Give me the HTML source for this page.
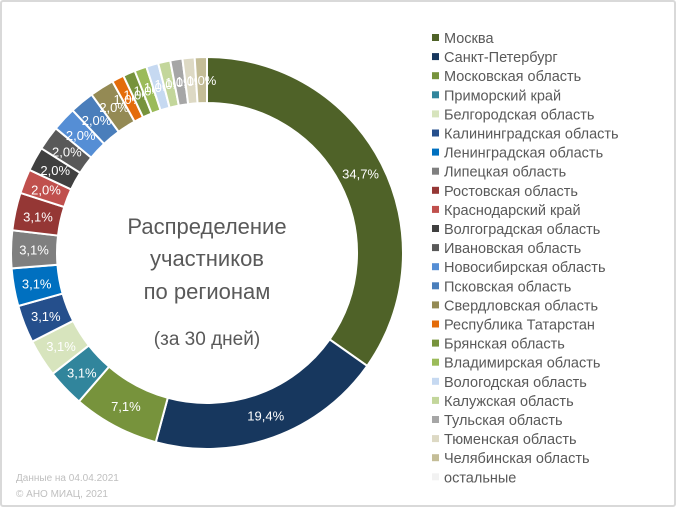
<!DOCTYPE html>
<html><head><meta charset="utf-8"><style>
html,body{margin:0;padding:0;background:#fff}
#wrap{position:relative;width:672px;height:503px;border:2px solid #d9d9d9;border-radius:3px;overflow:hidden;font-family:"Liberation Sans","Noto Sans CJK SC",sans-serif}
svg{position:absolute;left:0;top:0}
</style></head><body>
<div id="wrap">
<svg id="chart" width="672" height="503"></svg>
</div>
<script>
const regions=["Москва","Санкт-Петербург","Московская область","Приморский край","Белгородская область","Калининградская область","Ленинградская область","Липецкая область","Ростовская область","Краснодарский край","Волгоградская область","Ивановская область","Новосибирская область","Псковская область","Свердловская область","Республика Татарстан","Брянская область","Владимирская область","Вологодская область","Калужская область","Тульская область","Тюменская область","Челябинская область","остальные"];
const shares=[34.7,19.4,7.1,3.1,3.1,3.1,3.1,3.1,3.1,2.0,2.0,2.0,2.0,2.0,2.0,1.0,1.0,1.0,1.0,1.0,1.0,1.0,1.0,0];
const labels=["34,7%","19,4%","7,1%","3,1%","3,1%","3,1%","3,1%","3,1%","3,1%","2,0%","2,0%","2,0%","2,0%","2,0%","2,0%","1,0%","1,0%","1,0%","1,0%","1,0%","1,0%","1,0%","1,0%",""];
const colors=["#4f6228","#17375e","#77933c","#31859c","#d7e4bd","#254f8c","#0070c0","#7f7f7f","#953735","#c0504d","#404040","#595959","#558ed5","#4a7ebb","#948a54","#e46c0a","#77933c","#9bbb59","#c6d9f1","#c3d69b","#a6a6a6","#ddd9c4","#c4bd97","#f2f2f2"];
const NS="http://www.w3.org/2000/svg";
const svg=document.getElementById("chart");
const cx=205,cy=251,R=196,r=150;
const total=shares.reduce((a,b)=>a+b,0);
function pt(a,rad){return [cx+rad*Math.sin(a),cy-rad*Math.cos(a)];}
let acc=0;
shares.forEach((v,i)=>{
  if(v<=0) return;
  const a0=acc/total*2*Math.PI, a1=(acc+v)/total*2*Math.PI; acc+=v;
  const large=(a1-a0)>Math.PI?1:0;
  const [x0,y0]=pt(a0,R),[x1,y1]=pt(a1,R),[x2,y2]=pt(a1,r),[x3,y3]=pt(a0,r);
  const p=document.createElementNS(NS,"path");
  p.setAttribute("d",`M${x0},${y0}A${R},${R} 0 ${large} 1 ${x1},${y1}L${x2},${y2}A${r},${r} 0 ${large} 0 ${x3},${y3}Z`);
  p.setAttribute("fill",colors[i]);p.setAttribute("stroke","#fff");p.setAttribute("stroke-width","2");
  
  
  svg.appendChild(p);
  const [lx,ly]=pt((a0+a1)/2,(R+r)/2);
  const t=document.createElementNS(NS,"text");
  t.setAttribute("x",lx);t.setAttribute("y",ly+5);t.setAttribute("text-anchor","middle");
  t.setAttribute("fill","#fff");t.setAttribute("font-size","13");
  t.textContent=labels[i];
  
  
  svg.appendChild(t);
});
regions.forEach((n,i)=>{
  const y=36+i*19.1;
  const m=document.createElementNS(NS,"rect");
  m.setAttribute("x",430);m.setAttribute("y",y-4);m.setAttribute("width",7);m.setAttribute("height",7);m.setAttribute("fill",colors[i]);
  
  
  svg.appendChild(m);
  const t=document.createElementNS(NS,"text");
  t.setAttribute("x",442);t.setAttribute("y",y+5);t.setAttribute("font-size","14.5");t.setAttribute("fill","#595959");
  t.textContent=n;
  
  
  svg.appendChild(t);
});
[["Распределение",232,22],["участников",264,22],["по регионам",297,22],["(за 30 дней)",343,19]].forEach(([s,y,f])=>{
  const t=document.createElementNS(NS,"text");
  t.setAttribute("x",cx);t.setAttribute("y",y);t.setAttribute("text-anchor","middle");t.setAttribute("font-size",f);t.setAttribute("fill","#595959");
  t.textContent=s;
  
  
  svg.appendChild(t);
});
[["Данные на 04.04.2021",479],["© АНО МИАЦ, 2021",495]].forEach(([s,y])=>{
  const t=document.createElementNS(NS,"text");
  t.setAttribute("x",14);t.setAttribute("y",y);t.setAttribute("font-size","10");t.setAttribute("fill","#bfbfbf");
  t.textContent=s;
  
  
  svg.appendChild(t);
});
</script>
</body></html>
